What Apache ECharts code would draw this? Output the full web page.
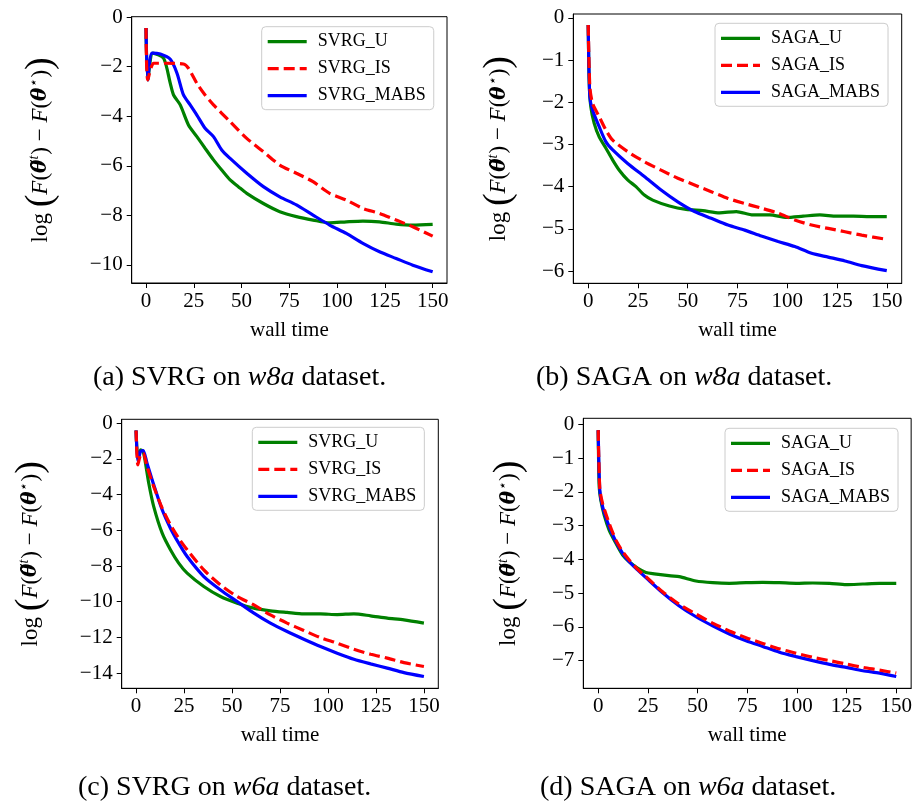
<!DOCTYPE html>
<html>
<head>
<meta charset="utf-8">
<script src="https://cdn.jsdelivr.net/npm/echarts@6/dist/echarts.min.js"></script>
<style>
html,body{margin:0;padding:0;background:#fff;}
#chart{width:915px;height:803px;}
</style>
</head>
<body>
<div id="chart"></div>
<script>
// ---------- data ----------
// (a) SVRG on w8a
const aU_x = [0, 0.9, 3.6, 9.2, 12.7, 14.4, 17.9, 22.2, 26.6, 30.9, 35.3, 39.6, 44, 48.3, 52.7, 61.4, 70, 78.7, 87.4, 96.1, 104.8, 113.5, 122.2, 130.9, 139.6, 150];
const aU_y = [-0.44, -2.53, -1.45, -1.66, -2.67, -3.14, -3.54, -4.35, -4.82, -5.29, -5.76, -6.17, -6.57, -6.84, -7.11, -7.52, -7.85, -8.05, -8.19, -8.30, -8.26, -8.23, -8.26, -8.35, -8.39, -8.36];
const aIS_x = [0, 0.9, 4, 10, 19.6, 22.2, 26.6, 30.9, 35.3, 44, 52.7, 61.4, 70, 78.7, 87.4, 96.1, 104.8, 113.5, 122.2, 130.9, 139.6, 150];
const aIS_y = [-0.44, -2.53, -1.86, -1.86, -1.89, -2.06, -2.67, -3.14, -3.54, -4.22, -4.89, -5.43, -5.97, -6.30, -6.64, -7.11, -7.38, -7.72, -7.92, -8.19, -8.46, -8.84];
const aM_x = [0, 0.9, 3.1, 7.5, 12.7, 16.2, 19.6, 23.1, 26.6, 30.9, 35.3, 39.6, 44, 52.7, 61.4, 70, 78.7, 87.4, 96.1, 104.8, 113.5, 122.2, 130.9, 139.6, 150];
const aM_y = [-0.44, -2.53, -1.45, -1.49, -1.70, -2.26, -3.14, -3.54, -3.95, -4.48, -4.82, -5.36, -5.70, -6.30, -6.84, -7.25, -7.58, -7.99, -8.39, -8.73, -9.13, -9.47, -9.74, -10.01, -10.28];

// (b) SAGA on w8a
const bU_x = [0, 0.5, 1.3, 3, 5.5, 8.9, 12.3, 15.6, 19.8, 24, 28.2, 32.4, 40.8, 49.2, 57.6, 66, 74.4, 82.8, 91.2, 99.6, 108, 116.4, 124.8, 133.2, 141.6, 150];
const bU_y = [-0.17, -1.55, -2.11, -2.50, -2.82, -3.09, -3.37, -3.61, -3.84, -4.00, -4.20, -4.32, -4.46, -4.54, -4.57, -4.62, -4.59, -4.67, -4.67, -4.73, -4.70, -4.67, -4.70, -4.70, -4.71, -4.71];
const bIS_x = [0, 0.8, 2.2, 5.5, 8.9, 12.3, 19.8, 28.2, 36.6, 45, 53.4, 61.8, 70.2, 78.6, 87, 95.4, 103.8, 112.2, 120.6, 129, 137.4, 150];
const bIS_y = [-0.17, -1.63, -2.03, -2.34, -2.66, -2.90, -3.17, -3.41, -3.61, -3.80, -3.96, -4.12, -4.28, -4.40, -4.51, -4.63, -4.79, -4.91, -4.99, -5.07, -5.15, -5.25];
const bM_x = [0, 0.8, 2.2, 5.5, 8.9, 12.3, 19.8, 28.2, 36.6, 45, 53.4, 61.8, 70.2, 78.6, 87, 95.4, 103.8, 112.2, 120.6, 129, 137.4, 150];
const bM_y = [-0.17, -1.87, -2.19, -2.58, -2.94, -3.13, -3.45, -3.76, -4.08, -4.36, -4.59, -4.75, -4.91, -5.03, -5.17, -5.30, -5.42, -5.58, -5.67, -5.76, -5.87, -5.99];

// (c) SVRG on w6a
const cU_x = [0, 0.9, 2.3, 3.7, 4.9, 6.6, 9.2, 13.6, 17.9, 22.2, 26.6, 35.3, 44, 52.7, 61.4, 70, 78.7, 87.4, 96.1, 104.8, 113.5, 122.2, 130.9, 139.6, 150];
const cU_y = [-0.41, -2.05, -1.49, -1.59, -2.24, -3.36, -4.67, -6.16, -7.09, -7.84, -8.40, -9.15, -9.71, -10.08, -10.36, -10.51, -10.60, -10.68, -10.68, -10.72, -10.68, -10.79, -10.92, -11.02, -11.20];
const cIS_x = [0, 0.9, 2.3, 3.7, 5.7, 9.2, 13.6, 17.9, 22.2, 26.6, 35.3, 44, 52.7, 61.4, 70, 78.7, 87.4, 96.1, 104.8, 113.5, 122.2, 130.9, 139.6, 150];
const cIS_y = [-0.41, -2.33, -1.77, -1.68, -2.43, -3.55, -4.76, -5.69, -6.44, -7.09, -8.22, -9.06, -9.71, -10.18, -10.74, -11.20, -11.61, -12.01, -12.32, -12.66, -12.94, -13.16, -13.41, -13.63];
const cM_x = [0, 0.9, 2.3, 3.7, 5.7, 9.2, 13.6, 17.9, 22.2, 26.6, 35.3, 44, 52.7, 61.4, 70, 78.7, 87.4, 96.1, 104.8, 113.5, 122.2, 130.9, 139.6, 150];
const cM_y = [-0.41, -2.15, -1.59, -1.53, -2.24, -3.45, -4.85, -5.88, -6.72, -7.47, -8.59, -9.34, -9.99, -10.64, -11.20, -11.67, -12.10, -12.51, -12.88, -13.22, -13.48, -13.72, -13.97, -14.19];

// (d) SAGA on w6a
const dU_x = [0, 0.5, 1.3, 3, 5.5, 8.9, 12.3, 15.6, 19.8, 24, 28.2, 36.6, 40.8, 49.2, 57.6, 66, 74.4, 82.8, 91.2, 99.6, 108, 116.4, 124.8, 133.2, 141.6, 150];
const dU_y = [-0.17, -1.85, -2.24, -2.69, -3.13, -3.52, -3.87, -4.07, -4.26, -4.39, -4.43, -4.49, -4.51, -4.64, -4.69, -4.71, -4.69, -4.68, -4.69, -4.71, -4.70, -4.71, -4.75, -4.73, -4.71, -4.71];
const dIS_x = [0, 0.8, 2.2, 5.5, 8.9, 12.3, 15.6, 19.8, 24, 32.4, 40.8, 49.2, 57.6, 66, 74.4, 82.8, 91.2, 99.6, 108, 116.4, 124.8, 133.2, 141.6, 150];
const dIS_y = [-0.17, -1.90, -2.34, -2.93, -3.43, -3.77, -4.02, -4.29, -4.51, -4.96, -5.33, -5.62, -5.89, -6.12, -6.32, -6.49, -6.65, -6.78, -6.90, -7.00, -7.10, -7.20, -7.28, -7.37];
const dM_x = [0, 0.8, 2.2, 5.5, 8.9, 12.3, 15.6, 19.8, 24, 32.4, 40.8, 49.2, 57.6, 66, 74.4, 82.8, 91.2, 99.6, 108, 116.4, 124.8, 133.2, 141.6, 150];
const dM_y = [-0.17, -1.94, -2.44, -3.03, -3.47, -3.82, -4.07, -4.31, -4.54, -4.99, -5.38, -5.70, -5.97, -6.21, -6.41, -6.58, -6.75, -6.88, -7.00, -7.11, -7.20, -7.30, -7.37, -7.47];

// tick labels
const xTicks = [0, 25, 50, 75, 100, 125, 150];
const yTicksA = [0, -2, -4, -6, -8, -10];
const yTicksB = [0, -1, -2, -3, -4, -5, -6];
const yTicksC = [0, -2, -4, -6, -8, -10, -12, -14];
const yTicksD = [0, -1, -2, -3, -4, -5, -6, -7];

const namesSVRG = ['SVRG_U', 'SVRG_IS', 'SVRG_MABS'];
const namesSAGA = ['SAGA_U', 'SAGA_IS', 'SAGA_MABS'];
const captions = [
  ['(a) SVRG on ', 'w8a', ' dataset.'],
  ['(b) SAGA on ', 'w8a', ' dataset.'],
  ['(c) SVRG on ', 'w6a', ' dataset.'],
  ['(d) SAGA on ', 'w6a', ' dataset.']
];
const xName = 'wall time';

// ---------- layout ----------
const FONT = 'Liberation Serif';
const panels = [
  {grid: {left: 131.7, top: 16.7, width: 315.3, height: 266.3}, ymin: -10.73, ymax: 0.02, yt: yTicksA, names: namesSVRG,
   data: [[aU_x, aU_y], [aIS_x, aIS_y], [aM_x, aM_y]], legend: {left: 261.7, top: 26.7}, cap: {x: 93, y: 380}, gap: 72},
  {grid: {left: 573.3, top: 14, width: 328.4, height: 269.3}, ymin: -6.29, ymax: 0.09, yt: yTicksB, names: namesSAGA,
   data: [[bU_x, bU_y], [bIS_x, bIS_y], [bM_x, bM_y]], legend: {left: 715, top: 23.3}, cap: {x: 536, y: 380}, gap: 55},
  {grid: {left: 121.7, top: 419.3, width: 316.6, height: 269}, ymin: -14.85, ymax: 0.22, yt: yTicksC, names: namesSVRG,
   data: [[cU_x, cU_y], [cIS_x, cIS_y], [cM_x, cM_y]], legend: {left: 252.3, top: 427.3}, cap: {x: 78, y: 790}, gap: 72},
  {grid: {left: 583.3, top: 418.3, width: 328.4, height: 270}, ymin: -7.82, ymax: 0.18, yt: yTicksD, names: namesSAGA,
   data: [[dU_x, dU_y], [dIS_x, dIS_y], [dM_x, dM_y]], legend: {left: 725, top: 428.3}, cap: {x: 540, y: 790}, gap: 55}
];
const colors = ['#008000', '#ff0000', '#0000ff'];
const iconSolid = 'path://M0,0H39V3.2H0Z';
const iconDash = 'path://M0,0H11V3.2H0Z M16,0H27V3.2H16Z M32,0H39V3.2H32Z';

const minus = v => String(v).replace('-', '\u2212');

const yNameRich = {
  n: {fontFamily: FONT, fontSize: 23, color: '#000'},
  big: {fontFamily: FONT, fontSize: 38, color: '#000'},
  it: {fontFamily: FONT, fontSize: 23, fontStyle: 'italic', color: '#000'},
  bi: {fontFamily: 'DejaVu Serif', fontSize: 20, fontStyle: 'italic', fontWeight: 'bold', color: '#000'},
  sup: {fontFamily: FONT, fontSize: 14, fontStyle: 'italic', color: '#000', padding: [0, 1, 12, 0]}
};
const yName = '{n|log }{big|(}{it|F}{n|(}{bi|θ\u0303}{sup|t}{n|) − }{it|F}{n|(}{bi|θ}{sup|⋆}{n|)}{big|)}';

const option = {
  animation: false,
  backgroundColor: '#fff',
  grid: [], xAxis: [], yAxis: [], series: [], legend: [],
  graphic: []
};

panels.forEach((p, i) => {
  option.grid.push(Object.assign({show: true, borderColor: '#000', borderWidth: 1, backgroundColor: 'transparent'}, p.grid));
  option.xAxis.push({
    type: 'value', gridIndex: i, min: -7.5, max: 157.5,
    name: xName, nameLocation: 'middle', nameGap: 37,
    nameTextStyle: {fontFamily: FONT, fontSize: 21, color: '#000'},
    axisLine: {show: true, onZero: false, lineStyle: {color: '#000', width: 1}},
    axisTick: {show: true, inside: false, length: 5, customValues: xTicks, lineStyle: {color: '#000'}},
    axisLabel: {show: true, margin: 8, customValues: xTicks, fontFamily: FONT, fontSize: 21, color: '#000', formatter: minus},
    splitLine: {show: false}
  });
  option.yAxis.push({
    type: 'value', gridIndex: i, min: p.ymin, max: p.ymax,
    name: yName, nameLocation: 'middle', nameGap: p.gap,
    nameTextStyle: {rich: yNameRich},
    axisLine: {show: true, onZero: false, lineStyle: {color: '#000', width: 1}},
    axisTick: {show: true, inside: false, length: 5, customValues: p.yt, lineStyle: {color: '#000'}},
    axisLabel: {show: true, margin: 9, customValues: p.yt, fontFamily: FONT, fontSize: 21, color: '#000', formatter: minus},
    splitLine: {show: false}
  });
  p.data.forEach((d, k) => {
    option.series.push({
      type: 'line', name: p.names[k], xAxisIndex: i, yAxisIndex: i,
      data: d[0].map((x, j) => [x, d[1][j]]),
      symbol: 'none', smooth: 0.25, clip: true,
      lineStyle: {color: colors[k], width: 3.2, type: k === 1 ? [11, 5] : 'solid'},
      itemStyle: {color: colors[k]},
      z: k === 1 ? 4 : 3
    });
  });
  option.legend.push({
    orient: 'vertical', left: p.legend.left, top: p.legend.top,
    data: p.names.map((n, k) => ({name: n, icon: k === 1 ? iconDash : iconSolid})),
    itemWidth: 39, itemHeight: 3.2, itemGap: 9,
    padding: [6, 8, 5, 6],
    backgroundColor: 'rgba(255,255,255,0.85)', borderColor: '#cccccc', borderWidth: 1, borderRadius: 4,
    textStyle: {fontFamily: FONT, fontSize: 18, color: '#000', padding: [0, 0, 0, 6]},
    selectedMode: false
  });
  const c = captions[i];
  option.graphic.push({
    type: 'text', left: p.cap.x, top: p.cap.y - 16,
    style: {
      text: '{n|' + c[0] + '}{i|' + c[1] + '}{n|' + c[2] + '}',
      rich: {
        n: {fontFamily: FONT, fontSize: 28, fill: '#000'},
        i: {fontFamily: FONT, fontSize: 28, fontStyle: 'italic', fill: '#000'}
      }
    }
  });
});

const chart = echarts.init(document.getElementById('chart'), null, {renderer: 'canvas'});
chart.setOption(option);
</script>
</body>
</html>
